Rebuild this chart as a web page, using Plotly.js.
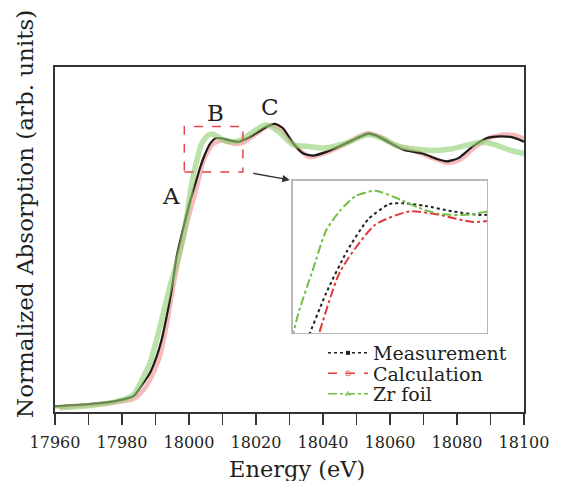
<!DOCTYPE html>
<html>
<head>
<meta charset="utf-8">
<script src="https://cdn.plot.ly/plotly-3.0.1.min.js"></script>
<style>html,body{margin:0;padding:0;background:#fff;}#chart{width:567px;height:481px;}</style>
</head>
<body>
<div id="chart"></div>
<script>
// Measurement
var measEnergy = [17960,17970,17978,17983.4,17986.3,17988.3,17990.3,17991.8,17993.3,17994.8,17996.3,17998.4,18000.4,18001.9,18003.4,18004.9,18006.4,18007.9,18008.9,18010.5,18012.4,18014.9,18018.4,18022.4,18025.6,18028,18031,18034,18037,18040.6,18046,18051.4,18053.5,18056,18060,18064,18069.7,18074,18077,18080.4,18084.7,18089,18093,18096.6,18100];
var measValues = [0.020,0.027,0.038,0.055,0.100,0.135,0.192,0.250,0.331,0.424,0.540,0.645,0.737,0.795,0.853,0.900,0.935,0.952,0.953,0.950,0.944,0.940,0.958,0.987,1.002,0.988,0.936,0.900,0.892,0.903,0.930,0.959,0.968,0.961,0.936,0.912,0.899,0.880,0.872,0.883,0.924,0.953,0.959,0.955,0.940];
// Calculation
var calcEnergy = [17960,17970,17978,17983.4,17986.3,17988.3,17991.3,17993.8,17995.3,17998.4,18000.4,18002.4,18004.4,18006.9,18009.4,18011.5,18013.9,18016,18019,18024,18027.5,18031,18035.8,18040,18046,18051,18053.5,18057,18062,18068,18073,18077.2,18081,18085,18090,18094.4,18097.5,18100];
var calcValues = [0.016,0.024,0.034,0.045,0.075,0.110,0.192,0.331,0.436,0.610,0.700,0.784,0.877,0.929,0.944,0.940,0.932,0.936,0.958,0.996,0.985,0.935,0.887,0.898,0.928,0.960,0.970,0.958,0.925,0.905,0.882,0.866,0.878,0.918,0.955,0.965,0.962,0.950];
// Zr foil
var foilEnergy = [17960,17970,17978,17983.4,17986.3,17988.3,17990.3,17992.3,17994.3,17997.2,17998.5,17999.4,18000.4,18001.4,18002.4,18003.4,18004.4,18005.5,18006.9,18008.7,18010,18011.5,18013.5,18015.5,18018,18022.9,18026.7,18031,18035.3,18040.6,18047,18053.5,18057.9,18062.2,18067.5,18072.9,18078.3,18083.7,18086.9,18091.2,18095.5,18100];
var foilValues = [0.014,0.022,0.035,0.060,0.120,0.169,0.250,0.343,0.436,0.553,0.620,0.685,0.765,0.830,0.877,0.923,0.945,0.961,0.967,0.957,0.948,0.941,0.940,0.946,0.965,0.999,0.976,0.930,0.924,0.918,0.936,0.965,0.950,0.926,0.915,0.910,0.915,0.930,0.938,0.930,0.912,0.899];

var seriesNames = ['Measurement','Calculation','Zr foil'];
var xTickVals = [17960,17980,18000,18020,18040,18060,18080,18100];
var xTickText = ['17960','17980','18000','18020','18040','18060','18080','18100'];
var peakLabels = ['A','B','C'];
var peakX = [17994.5,18007.8,18024.3];
var peakY = [0.750,1.040,1.061];

var serif = 'DejaVu Serif, serif';
var txt = '#231f20';
var sm = 0.6;

var traces = [
  {x: calcEnergy, y: calcValues, type:'scatter', mode:'lines', line:{color:'rgba(238,130,130,0.55)', width:4.5, shape:'spline', smoothing:sm}, showlegend:false},
  {x: measEnergy, y: measValues, type:'scatter', mode:'lines', line:{color:'#1e1a1a', width:2.2, shape:'spline', smoothing:sm}, showlegend:false},
  {x: foilEnergy, y: foilValues, type:'scatter', mode:'lines', line:{color:'rgba(145,208,115,0.62)', width:5.5, shape:'spline', smoothing:sm}, showlegend:false},
  // inset
  {x: measEnergy, y: measValues, xaxis:'x2', yaxis:'y2', type:'scatter', mode:'lines', showlegend:false,
   line:{color:'#222', width:2, dash:'dot', shape:'spline', smoothing:sm}},
  {x: calcEnergy, y: calcValues, xaxis:'x2', yaxis:'y2', type:'scatter', mode:'lines', showlegend:false,
   line:{color:'#e23a3a', width:2, dash:'dashdot', shape:'spline', smoothing:sm}},
  {x: foilEnergy, y: foilValues, xaxis:'x2', yaxis:'y2', type:'scatter', mode:'lines', showlegend:false,
   line:{color:'#72be45', width:2, dash:'dashdot', shape:'spline', smoothing:sm}},
  // legend entries (drawn on a hidden axis pair whose range excludes the data)
  {x: measEnergy, y: measValues, xaxis:'x3', yaxis:'y3', type:'scatter', mode:'lines+markers', name: seriesNames[0], legend:'legend',
   line:{color:'#222', width:1.5, dash:'dot'}, marker:{symbol:'square', size:4, color:'#222'}},
  {x: calcEnergy, y: calcValues, xaxis:'x3', yaxis:'y3', type:'scatter', mode:'lines+markers', name: seriesNames[1], legend:'legend2',
   line:{color:'#e23a3a', width:1.5, dash:'dash'}, marker:{symbol:'circle-open', size:5, color:'#e8706e'}},
  {x: foilEnergy, y: foilValues, xaxis:'x3', yaxis:'y3', type:'scatter', mode:'lines+markers', name: seriesNames[2], legend:'legend3',
   line:{color:'#72be45', width:1.5, dash:'dashdot'}, marker:{symbol:'triangle-up-open', size:5, color:'#8cc86a'}}
];

var annotations = peakLabels.map(function(t,i){
  return {x: peakX[i], y: peakY[i], xref:'x', yref:'y', text:t, showarrow:false, font:{family:serif, size:23, color:txt}};
});
annotations.push({x:18030.1, y:0.807, xref:'x', yref:'y', ax:-38, ay:-7, text:'', showarrow:true, arrowhead:2, arrowsize:1, arrowwidth:1.5, arrowcolor:'#333'});
annotations.push({x:0.517, y:-0.165, xref:'paper', yref:'paper', text:'Energy (eV)', showarrow:false, yanchor:'middle', font:{family:serif, size:22.5, color:txt}});
annotations.push({x:-0.064, y:0.574, xref:'paper', yref:'paper', text:'Normalized Absorption (arb. units)', textangle:-90, showarrow:false, xanchor:'center', yanchor:'middle', font:{family:serif, size:23, color:txt}});

function leg(yc){
  return {x:(323-55)/469, y:(412-yc)/345, xanchor:'left', yanchor:'middle', bgcolor:'rgba(0,0,0,0)', itemwidth:40,
          font:{family:serif, size:19, color:txt}};
}

var layout = {
  width:567, height:481,
  margin:{l:55, r:43, t:67, b:69},
  paper_bgcolor:'#fff', plot_bgcolor:'#fff',
  xaxis:{range:[17960,18100], tickvals:xTickVals, ticktext:xTickText, ticks:'outside', ticklen:11, tickwidth:1.5, tickcolor:'#333',
         minor:{dtick:10, tick0:17960, ticks:'outside', ticklen:11, tickwidth:1.5, tickcolor:'#333'},
         showline:true, mirror:true, linewidth:2, linecolor:'#333', showgrid:false, zeroline:false,
         tickfont:{family:serif, size:16, color:txt}, ticklabelstandoff:4},
  yaxis:{range:[0,1.2], showticklabels:false, ticks:'', showline:true, mirror:true, linewidth:2, linecolor:'#333', showgrid:false, zeroline:false},
  xaxis2:{domain:[0.507,0.921], anchor:'y2', range:[18001.0,18014.9], showticklabels:false, ticks:'', showgrid:false, zeroline:false, showline:true, mirror:true, linecolor:'#b8b8b8', linewidth:1.5},
  yaxis2:{domain:[0.229,0.670], anchor:'x2', range:[0.808,0.978], showticklabels:false, ticks:'', showgrid:false, zeroline:false, showline:true, mirror:true, linecolor:'#b8b8b8', linewidth:1.5},
  xaxis3:{domain:[0,0.01], anchor:'y3', range:[0,1], visible:false},
  yaxis3:{domain:[0,0.01], anchor:'x3', range:[0,1], visible:false},
  shapes:[{type:'rect', xref:'x', yref:'y', x0:17998.6, x1:18016.1, y0:0.835, y1:0.993, line:{color:'#e8474a', width:1.5, dash:'dash'}}],
  annotations: annotations,
  legend: leg(353),
  legend2: leg(373.5),
  legend3: leg(394),
  showlegend:true
};

Plotly.newPlot('chart', traces, layout, {staticPlot:true});
</script>
</body>
</html>
